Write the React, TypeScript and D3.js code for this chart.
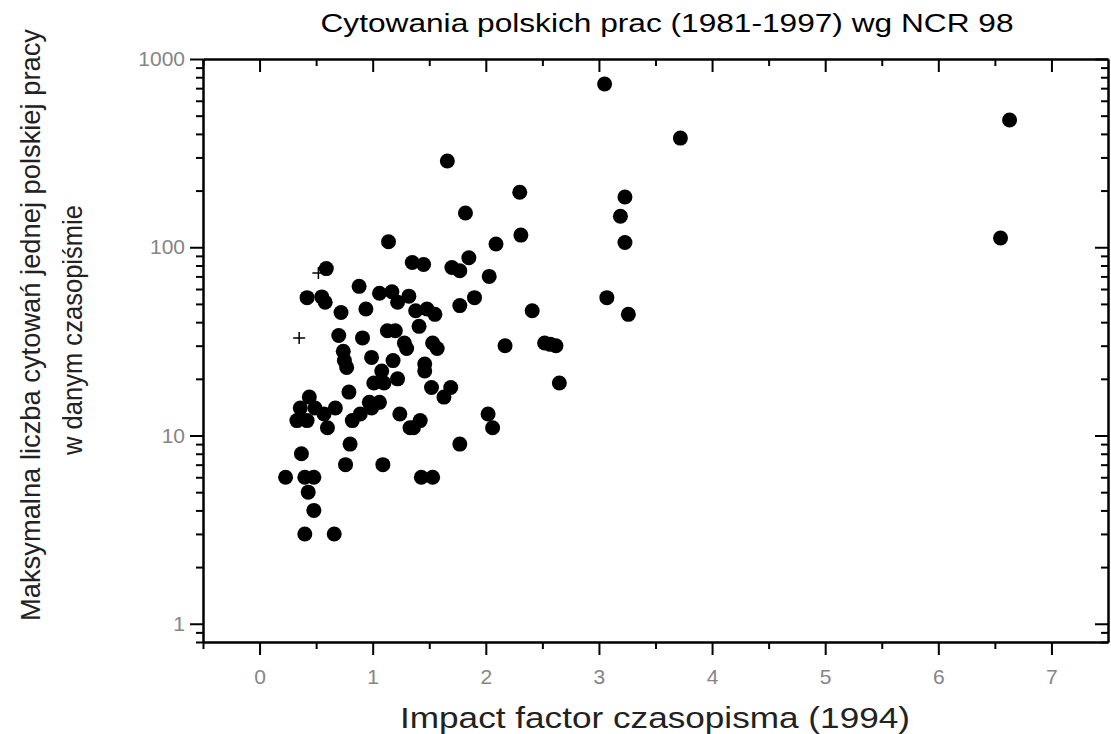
import React, { useEffect, useRef } from "react";
import * as d3 from "d3";

// impact factor (x) and max citations (y)
const impactFactor = [
  3.05, 3.72, 6.63, 6.55, 1.66, 1.82, 1.14, 0.59, 1.35, 1.45,
  1.7, 1.77, 1.85, 2.03, 0.88, 1.06, 1.17, 1.22, 1.32, 0.42,
  0.55, 0.58, 1.38, 1.48, 1.55, 1.77, 1.9, 0.72, 0.94, 1.13,
  1.2, 1.41, 0.7, 0.91, 1.28, 1.3, 1.53, 1.57, 0.74, 0.75,
  0.77, 0.99, 1.18, 1.08, 1.22, 1.46, 1.46, 1.01, 1.1, 0.79,
  1.52, 1.69, 1.63, 0.44, 0.36, 0.49, 0.57, 0.67, 0.33, 0.42,
  0.6, 0.97, 0.99, 1.06, 0.82, 0.89, 1.24, 1.33, 1.42, 1.36,
  2.02, 2.06, 0.8, 1.77, 0.37, 0.76, 1.09, 0.23, 0.4, 0.48,
  1.43, 1.53, 0.43, 0.48, 0.4, 0.66, 2.3, 3.23, 3.19, 2.31,
  3.23, 2.09, 3.07, 2.41, 3.26, 2.17, 2.52, 2.57, 2.62, 2.65,
];
const maxCitations = [
  736, 380, 474, 112, 287, 152, 107, 77, 83, 81,
  78, 75, 88, 70, 62, 57, 58, 51, 55, 54,
  54.5, 51, 46, 47, 44, 49, 54, 45, 47, 36,
  36, 38, 34, 33, 31, 29, 31, 29, 28, 25,
  23, 26, 25, 22, 20, 24, 22, 19, 19, 17,
  18, 18, 16, 16, 14, 14, 13, 14, 12, 12,
  11, 15, 14, 15, 12, 13, 13, 11, 12, 11,
  13, 11, 9, 9, 8, 7, 7, 6, 6, 6,
  6, 6, 5, 4, 3, 3, 196, 185, 146, 116,
  106, 104, 54, 46, 44, 30, 31, 30.5, 30, 19,
];
// two points drawn with "+" instead of a dot
const crossX = [0.52, 0.35];
const crossY = [73, 33];

const xTicks = [0, 1, 2, 3, 4, 5, 6, 7];
const xMinor = [-0.5, 0.5, 1.5, 2.5, 3.5, 4.5, 5.5, 6.5];
const yTicks = [1, 10, 100, 1000];

const title = "Cytowania polskich prac (1981-1997) wg NCR 98";
const xTitle = "Impact factor czasopisma (1994)";
const yTitle1 = "Maksymalna liczba cytowań jednej polskiej pracy";
const yTitle2 = "w danym czasopiśmie";

const W = 1111;
const H = 734;
const font = "'Liberation Sans', Arial, sans-serif";

export default function App() {
  const ref = useRef<SVGSVGElement>(null);

  useEffect(() => {
    const svg = d3.select(ref.current);
    svg.selectAll("*").remove();

    const left = 203, right = 1108, top = 59, bottom = 642;

    const x = d3.scaleLinear().domain([-0.5, 7.5]).range([left, right]);
    const y = d3.scaleLog().domain([0.8, 1000]).range([bottom, top]);

    const yMinor: number[] = [];
    for (const d of [0.1, 1, 10, 100]) {
      for (let k = 2; k <= 9; k++) {
        const v = d * k;
        if (v >= 0.8 && v < 1000) yMinor.push(v);
      }
    }

    const styleAxis = (g: any) => {
      g.select(".domain").attr("stroke", "#000").attr("stroke-width", 2);
      g.selectAll(".tick line").attr("stroke", "#000").attr("stroke-width", 2);
      g.selectAll(".tick text")
        .attr("fill", "#858585")
        .attr("font-family", font)
        .attr("font-size", 21);
    };

    // bottom: outward ticks
    svg.append("g")
      .attr("transform", `translate(0,${bottom})`)
      .call(d3.axisBottom(x).tickValues(xTicks).tickSize(13).tickSizeOuter(0).tickPadding(14).tickFormat(d3.format("d")))
      .call(styleAxis);
    svg.append("g")
      .attr("transform", `translate(0,${bottom})`)
      .call(d3.axisBottom(x).tickValues(xMinor).tickSize(7).tickSizeOuter(0).tickFormat(() => ""))
      .call(styleAxis);

    // top: inward ticks
    svg.append("g")
      .attr("transform", `translate(0,${top})`)
      .call(d3.axisBottom(x).tickValues(xTicks).tickSize(13).tickSizeOuter(0).tickFormat(() => ""))
      .call(styleAxis);
    svg.append("g")
      .attr("transform", `translate(0,${top})`)
      .call(d3.axisBottom(x).tickValues(xMinor).tickSize(7).tickSizeOuter(0).tickFormat(() => ""))
      .call(styleAxis);

    // left: outward ticks
    svg.append("g")
      .attr("transform", `translate(${left},0)`)
      .call(d3.axisLeft(y).tickValues(yTicks).tickSize(13).tickSizeOuter(0).tickPadding(5).tickFormat(d3.format("d")))
      .call(styleAxis);
    svg.append("g")
      .attr("transform", `translate(${left},0)`)
      .call(d3.axisLeft(y).tickValues(yMinor).tickSize(7).tickSizeOuter(0).tickFormat(() => ""))
      .call(styleAxis);

    // right: inward ticks
    svg.append("g")
      .attr("transform", `translate(${right},0)`)
      .call(d3.axisLeft(y).tickValues(yTicks).tickSize(13).tickSizeOuter(0).tickFormat(() => ""))
      .call(styleAxis);
    svg.append("g")
      .attr("transform", `translate(${right},0)`)
      .call(d3.axisLeft(y).tickValues(yMinor).tickSize(7).tickSizeOuter(0).tickFormat(() => ""))
      .call(styleAxis);

    // dots
    svg.append("g")
      .selectAll("circle")
      .data(d3.range(impactFactor.length))
      .join("circle")
      .attr("cx", (i) => x(impactFactor[i]))
      .attr("cy", (i) => y(maxCitations[i]))
      .attr("r", 7.5)
      .attr("fill", "#000");

    // crosses
    svg.append("g")
      .selectAll("path")
      .data(d3.range(crossX.length))
      .join("path")
      .attr("transform", (i) => `translate(${x(crossX[i])},${y(crossY[i])})`)
      .attr("d", "M-6,0H6M0,-6V6")
      .attr("stroke", "#000")
      .attr("stroke-width", 1.5)
      .attr("fill", "none");

    // titles (scan font is wide, so glyphs are stretched to the measured width)
    svg.append("text")
      .attr("x", 667)
      .attr("y", 32)
      .attr("text-anchor", "middle")
      .attr("font-family", font)
      .attr("font-size", 25)
      .attr("textLength", 693)
      .attr("lengthAdjust", "spacingAndGlyphs")
      .text(title);

    svg.append("text")
      .attr("x", 655)
      .attr("y", 728)
      .attr("text-anchor", "middle")
      .attr("font-family", font)
      .attr("font-size", 29)
      .attr("fill", "#222")
      .attr("textLength", 510)
      .attr("lengthAdjust", "spacingAndGlyphs")
      .text(xTitle);

    svg.append("text")
      .attr("transform", "translate(40,325) rotate(-90)")
      .attr("text-anchor", "middle")
      .attr("font-family", font)
      .attr("font-size", 27)
      .attr("fill", "#222")
      .attr("textLength", 592)
      .attr("lengthAdjust", "spacingAndGlyphs")
      .text(yTitle1);

    svg.append("text")
      .attr("transform", "translate(82,330) rotate(-90)")
      .attr("text-anchor", "middle")
      .attr("font-family", font)
      .attr("font-size", 27)
      .attr("fill", "#222")
      .attr("textLength", 250)
      .attr("lengthAdjust", "spacingAndGlyphs")
      .text(yTitle2);
  }, []);

  return (
    <svg
      ref={ref}
      width={W}
      height={H}
      style={{ position: "absolute", left: 0, top: 0, background: "#fff" }}
    />
  );
}
